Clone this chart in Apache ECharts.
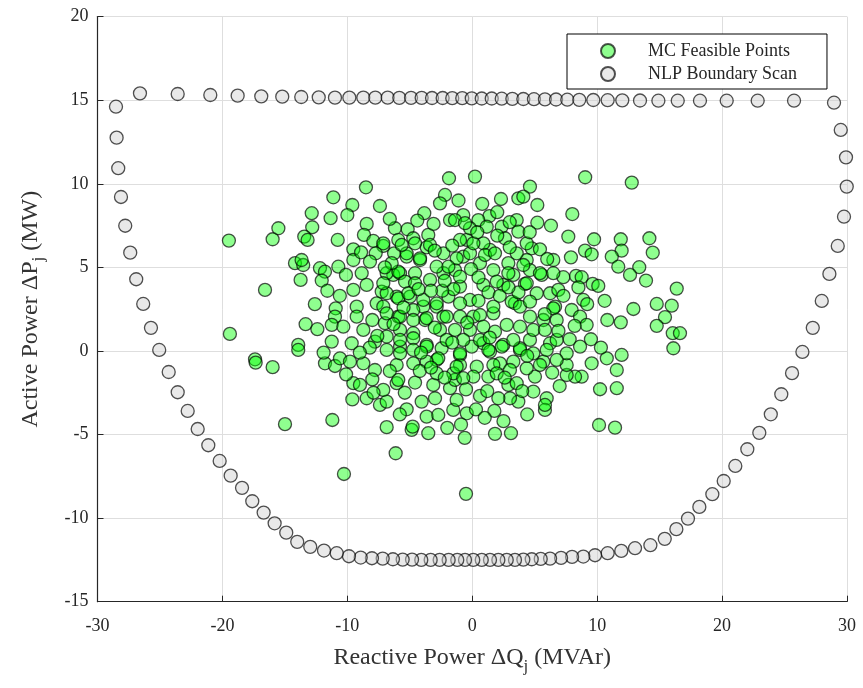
<!DOCTYPE html>
<html>
<head>
<meta charset="utf-8">
<script src="https://cdn.jsdelivr.net/npm/echarts@6/dist/echarts.min.js"></script>
<style>
html,body{margin:0;padding:0;background:#fff;}
#chart{width:863px;height:688px;}
</style>
</head>
<body>
<div id="chart"></div>
<script>
// ---- Data ----
const seriesNames = ['MC Feasible Points', 'NLP Boundary Scan'];
const xTicks = [-30, -20, -10, 0, 10, 20, 30];
const yTicks = [-15, -10, -5, 0, 5, 10, 15, 20];

// MC feasible points: reactive power (Q) and active power (P)
const mcQ = [
-1.86,-8.51,-11.12,-9.60,-7.39,-2.18,-12.85,-11.34,-10.00,-3.84,-2.58,-1.78,-15.52,-15.98,-12.81,-13.45,-13.18,-19.48,-10.77,-8.45,
-8.67,-7.92,-7.12,-6.19,-5.17,-5.92,-4.72,-3.52,-3.65,-9.52,-7.73,-6.26,-5.25,-4.18,-2.31,-14.19,-13.53,-13.66,-9.52,-8.19,
-12.19,-11.79,-10.72,-10.11,-8.85,-6.32,-5.78,-4.58,-13.74,-12.05,-16.59,-9.52,-8.45,-7.25,-6.05,-4.98,-3.92,-2.85,-9.25,-7.65,
-7.12,-10.93,-10.99,-9.25,-8.00,-6.99,-5.92,-4.72,-3.78,-2.31,-13.34,-19.40,-11.25,-10.32,-8.72,-5.78,-4.72,-2.58,-1.38,
0.22,9.04,12.77,4.62,2.30,3.69,4.09,5.21,8.01,1.37,3.56,5.21,-0.72,-1.38,0.49,2.36,3.69,2.62,7.69,9.75,
11.89,14.18,4.76,5.42,9.03,9.56,11.96,11.17,14.45,11.69,13.37,12.63,13.91,7.29,8.31,8.76,9.64,10.09,16.37,8.89,
12.90,14.77,15.97,15.43,10.81,11.89,14.77,16.05,16.63,6.63,7.96,8.63,9.16,5.69,1.42,2.89,4.36,4.62,5.56,2.49,
4.22,5.16,0.89,3.42,4.62,1.69,-0.18,0.09,-0.98,0.89,-0.44,-0.72,0.62,1.69,-1.38,3.29,1.16,-0.18,-0.98,-0.58,
-13.93,-13.93,-17.39,-17.34,-15.98,-11.25,-11.79,-10.99,-10.59,-9.79,-9.65,-8.72,-7.79,-9.52,-8.99,-8.45,-7.39,-6.85,-7.12,-6.05,
-4.58,-5.25,-4.05,-2.98,-3.65,-2.72,-1.52,-6.85,-4.85,-4.77,-3.52,-14.99,-11.20,-6.13,-10.27,-4.72,-5.92,-3.12,-1.78,-1.38,
-2.85,-3.65,-5.78,-6.85,-7.79,
16.10,11.96,11.57,11.57,10.23,10.15,11.43,10.77,9.56,8.76,8.23,7.56,7.56,8.63,7.56,6.76,5.69,5.02,4.89,5.96,
5.82,5.82,3.69,3.02,2.89,2.09,1.77,0.62,-0.44,1.82,3.10,-0.50,-0.98,-0.98,-1.51,0.89,1.42,2.49,3.82,4.62,
5.42,6.23,0.36,1.29,0.09,-0.72,-1.25,2.22,3.29,3.56,
-5.25,-4.18,-1.25,-0.18,1.02,1.82,3.56,-6.85,-5.92,-5.38,-4.58,-3.38,-2.31,-2.85,-1.91,-0.98,1.96,2.89,4.09,4.36,
5.42,6.23,-6.85,-5.92,-5.12,-3.92,-2.85,-1.91,-0.98,0.62,1.69,3.16,3.82,4.62,6.49,-6.85,-5.78,-4.72,-3.65,-2.05,
-0.98,-0.18,0.89,1.82,2.76,3.82,4.89,5.82,6.76,-6.85,-5.78,-4.72,-3.65,-2.45,-2.72,-0.98,-0.04,1.29,2.36,3.82,
4.89,5.96,-6.05,-3.65,-1.25,1.69,3.02,4.36,-7.12,-5.65,-4.58,-3.38,0.09,4.36,-7.12,6.49,6.76,-4.72,-5.78,-2.05,
-0.72,0.62,3.29,-2.85,1.96,
6.49,6.89,-6.45,-3.00,-1.60,0.40,2.00,3.00,-0.10,0.50,1.30,2.20,3.70,5.80,-1.50,-2.40,-3.30,-4.30,-5.50,-6.30,
-7.60,-8.20,-9.00,-8.00,-6.60,-5.40,-4.20,-3.30,-2.20,-0.50,0.30,1.20,2.60,4.00,4.40,6.40,7.00,6.90,7.80,8.20,
9.50,10.30,9.20,10.60,7.30,-2.00,-0.90,1.00,2.50,4.40,-5.80,-7.90,-9.60,-10.10,-11.90,-12.40,-10.60,-11.60,-12.60,-8.90,
-7.00,-6.60,-4.40,-3.10,-1.10,0.80,2.00,3.00,4.60,6.30,6.00,7.90,8.50,-0.60,1.40,-1.60,-3.00,-4.10,0.50,-0.40,
2.90,-2.20
];
const mcP = [
10.33,9.79,9.19,8.73,8.67,9.33,8.24,7.94,8.13,8.24,8.83,7.83,7.34,6.68,7.40,6.84,6.64,6.60,6.64,7.60,
6.94,6.58,6.28,7.34,7.28,6.64,6.74,6.94,6.20,6.08,5.84,5.84,5.64,5.44,5.84,5.25,5.14,5.44,5.44,5.34,
4.95,4.74,5.04,4.55,4.65,4.55,4.65,4.65,4.25,4.21,3.65,3.65,3.95,3.55,3.25,3.25,2.65,2.65,2.65,2.85,
2.65,2.55,2.05,2.05,1.85,1.66,2.05,2.45,1.85,2.05,1.60,1.02,1.56,1.45,1.26,1.26,1.06,1.26,1.26,
10.43,10.39,10.07,9.83,9.09,9.13,9.23,8.73,8.19,8.07,7.83,7.67,8.13,7.83,7.83,7.43,7.14,6.74,6.84,6.68,
6.68,6.74,6.14,6.08,6.00,5.78,6.00,5.64,5.88,5.04,5.01,4.55,4.21,4.41,4.49,4.41,4.01,3.89,3.73,3.05,
2.51,2.81,2.71,2.02,1.85,1.71,1.50,1.06,1.06,2.65,2.45,2.05,1.56,1.85,6.04,5.25,5.44,4.84,4.55,3.95,
4.01,3.45,3.95,2.85,2.05,2.25,3.05,2.05,3.85,6.44,6.64,5.64,5.25,4.84,4.84,4.55,7.43,7.34,6.64,7.64,
0.36,0.06,-0.50,-0.70,-0.97,0.56,-0.74,-0.90,-0.44,-0.64,0.46,-0.74,-1.14,-1.93,-2.03,-2.83,-3.23,-3.03,-2.33,-1.93,
-1.89,-3.49,-3.03,-2.83,-3.93,-3.83,-3.53,-4.56,-4.72,-4.53,-4.92,-4.38,-4.13,-6.12,-7.36,-0.74,-1.73,-2.03,-2.23,-1.73,
-0.54,0.36,0.26,0.06,0.56,
0.16,-0.24,-1.14,-2.23,-2.29,-4.43,-4.59,-0.44,-0.74,-1.54,-1.54,-1.44,-0.84,0.26,-0.14,-0.54,-0.64,-1.54,-2.43,-2.83,
-3.53,-3.23,-3.03,-2.83,-2.03,-2.83,-3.59,-2.69,-3.73,-4.96,-4.92,-8.55,-0.24,-0.84,-1.34,0.46,-0.04,0.36,0.06,0.66,
-0.84,0.46,-0.94,-1.54,-1.54,-1.63,-2.93,-0.74,-0.64,-1.93,
5.84,5.54,5.54,5.84,5.74,5.84,5.84,4.65,4.74,4.15,4.05,4.25,4.65,5.04,5.04,4.44,4.15,4.65,5.14,4.05,
4.65,3.45,3.45,3.15,3.45,3.05,2.85,3.25,2.85,2.15,2.65,2.95,2.65,2.95,2.55,2.25,2.05,1.85,1.96,2.05,
2.05,1.26,1.45,1.15,1.56,1.45,1.26,1.26,1.85,0.86,0.66,0.76,0.26,0.16,-0.44,-0.14,0.26,0.06,0.26,0.16,
-0.14,0.06,-0.84,-0.64,-0.94,-0.84,-1.14,-1.04,6.44,6.34,6.44,6.34,6.44,6.44,4.05,4.65,0.66,0.06,-0.14,0.66,
0.66,0.66,0.66,-1.34,-1.34,
5.44,3.65,5.25,6.00,6.30,7.10,6.90,6.20,4.90,4.40,3.50,3.30,3.50,2.20,3.70,3.60,3.60,3.70,2.60,1.60,
0.90,0.20,-0.10,-1.70,-1.20,-2.50,-1.20,-1.00,-1.60,-2.30,-3.50,-2.40,-1.60,-2.40,-0.30,-1.30,-2.10,1.20,0.70,1.50,
0.70,0.20,2.80,3.00,3.30,-4.60,-4.40,-4.00,-4.20,-3.80,-3.80,-2.50,-2.90,-1.40,-0.10,1.30,3.30,3.60,2.80,5.90,
5.00,7.90,7.80,7.60,9.00,8.80,8.30,7.70,7.10,7.50,5.50,5.60,3.80,-5.20,0.80,0.50,1.40,-0.10,3.00,1.70,
3.80,4.20
];

// NLP boundary scan points
const nlpQ = [
-26.60,-23.58,-20.97,-18.78,-16.89,-15.21,-13.69,-12.29,-10.99,-9.84,-8.72,-7.76,-6.77,-5.84,-4.90,-4.05,-3.22,-2.37,-1.60,-0.80,
-0.04,0.76,1.56,2.36,3.21,4.09,4.94,5.82,6.71,7.61,8.57,9.69,10.84,12.01,13.43,14.90,16.45,18.23,20.37,22.85,25.76,28.96,
29.50,29.92,29.98,29.76,29.26,28.59,27.98,27.26,26.43,25.60,24.74,23.90,22.98,22.02,21.06,20.13,19.22,18.18,17.27,16.34,15.41,
14.26,13.03,11.93,10.84,9.83,8.89,7.99,7.11,6.23,5.48,4.76,4.09,3.42,2.76,2.09,1.42,0.76,0.08,-0.58,
-1.20,-1.89,-2.61,-3.33,-4.08,-4.82,-5.57,-6.35,-7.17,-8.03,-8.93,-9.87,-10.85,-11.87,-12.97,-14.01,-14.89,-15.82,-16.70,-17.61,
-18.43,-19.34,-20.22,-21.13,-21.98,-22.78,-23.58,-24.30,-25.06,-25.72,-26.34,-26.90,-27.38,-27.78,-28.12,-28.34,-28.47,-28.52
];
const nlpP = [
15.41,15.37,15.31,15.27,15.23,15.21,15.19,15.17,15.15,15.15,15.15,15.15,15.15,15.14,15.14,15.14,15.13,15.13,15.12,15.12,
15.11,15.10,15.10,15.09,15.08,15.07,15.06,15.05,15.04,15.03,15.02,15.01,15.00,14.99,14.98,14.97,14.97,14.97,14.97,14.97,14.97,14.85,
13.22,11.58,9.83,8.03,6.28,4.61,2.99,1.38,-0.06,-1.33,-2.59,-3.79,-4.90,-5.88,-6.88,-7.78,-8.57,-9.33,-10.03,-10.66,-11.24,
-11.62,-11.80,-11.96,-12.10,-12.22,-12.30,-12.32,-12.38,-12.42,-12.44,-12.46,-12.48,-12.50,-12.50,-12.50,-12.50,-12.50,-12.50,-12.50,
-12.50,-12.50,-12.50,-12.50,-12.50,-12.48,-12.48,-12.46,-12.42,-12.40,-12.36,-12.28,-12.10,-11.94,-11.72,-11.42,-10.87,-10.31,-9.67,-8.99,
-8.19,-7.46,-6.58,-5.64,-4.67,-3.59,-2.47,-1.26,0.06,1.38,2.81,4.29,5.88,7.49,9.21,10.93,12.76,14.61
];

// ---- Build ----
const mcData = mcQ.map((q, i) => [q, mcP[i]]);
const nlpData = nlpQ.map((q, i) => [q, nlpP[i]]);
const FONT = '"Liberation Serif", "Times New Roman", serif';
const TXT = '#262626';

const chart = echarts.init(document.getElementById('chart'), null, {renderer: 'canvas'});
chart.setOption({
  animation: false,
  backgroundColor: '#ffffff',
  grid: {left: 97.5, right: 16, top: 16.6, bottom: 86.3, containLabel: false},
  legend: {
    orient: 'vertical',
    left: 567, top: 34,
    itemWidth: 70, itemHeight: 14, itemGap: 5,
    padding: [8, 30, 6, 33],
    borderColor: '#000', borderWidth: 1, backgroundColor: '#fff',
    textStyle: {fontFamily: FONT, fontSize: 18, color: TXT},
    data: seriesNames
  },
  xAxis: {
    type: 'value', min: xTicks[0], max: xTicks[xTicks.length - 1], interval: 10,
    name: 'Reactive Power ΔQ{sub|j} (MVAr)',
    nameLocation: 'middle', nameGap: 40,
    nameTextStyle: {fontFamily: FONT, fontSize: 24, color: '#333',
      rich: {sub: {fontFamily: FONT, fontSize: 17, color: '#333', padding: [16, 0, 0, 0]}}},
    axisLine: {show: true, onZero: false, lineStyle: {color: TXT, width: 1.2}},
    axisTick: {show: true, inside: true, length: 6, lineStyle: {color: TXT, width: 1}},
    axisLabel: {fontFamily: FONT, fontSize: 18, color: TXT, margin: 16},
    splitLine: {show: true, lineStyle: {color: '#dedede', width: 1}}
  },
  yAxis: {
    type: 'value', min: yTicks[0], max: yTicks[yTicks.length - 1], interval: 5,
    name: 'Active Power ΔP{sub|j} (MW)',
    nameLocation: 'middle', nameGap: 50,
    nameTextStyle: {fontFamily: FONT, fontSize: 24, color: '#333',
      rich: {sub: {fontFamily: FONT, fontSize: 17, color: '#333', padding: [16, 0, 0, 0]}}},
    axisLine: {show: true, onZero: false, lineStyle: {color: TXT, width: 1.2}},
    axisTick: {show: true, inside: true, length: 6, lineStyle: {color: TXT, width: 1}},
    axisLabel: {fontFamily: FONT, fontSize: 18, color: TXT, margin: 9},
    splitLine: {show: true, lineStyle: {color: '#dedede', width: 1}}
  },
  series: [
    {
      name: seriesNames[0], type: 'scatter', symbol: 'circle', symbolSize: 13,
      data: mcData,
      itemStyle: {color: 'rgba(0,255,0,0.55)', borderColor: 'rgba(0,0,0,0.85)', borderWidth: 1.3},
      emphasis: {disabled: true}
    },
    {
      name: seriesNames[1], type: 'scatter', symbol: 'circle', symbolSize: 13,
      data: nlpData,
      itemStyle: {color: 'rgba(205,205,205,0.55)', borderColor: 'rgba(0,0,0,0.85)', borderWidth: 1.3},
      emphasis: {disabled: true}
    }
  ]
});
</script>
</body>
</html>
